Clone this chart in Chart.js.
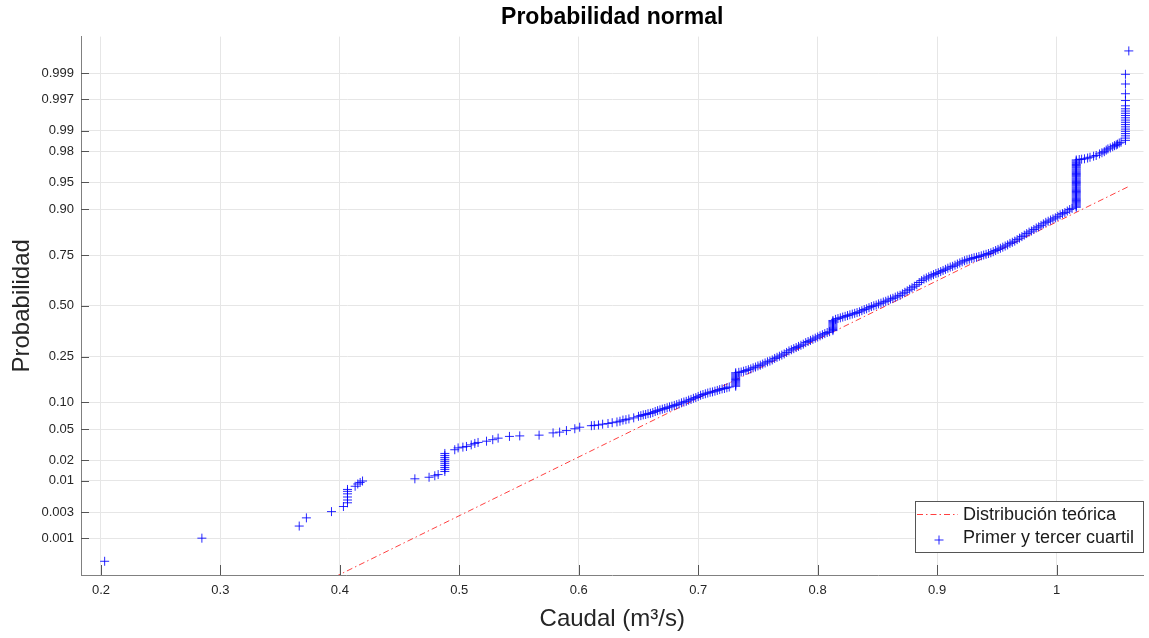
<!DOCTYPE html>
<html>
<head>
<meta charset="utf-8">
<script src="https://cdn.jsdelivr.net/npm/chart.js@4.4.0/dist/chart.umd.min.js"></script>
<style>
  html, body { margin: 0; padding: 0; background: #fff; }
  canvas { display: block; }
</style>
</head>
<body>
<canvas id="normplot" width="1149" height="638"></canvas>
<script>
// caudales ordenados (m3/s) y su probabilidad acumulada
const caudal = [
    // cola inferior
    0.2031, 0.2845, 0.366, 0.372, 0.393, 0.403,
    0.4064, 0.4064, 0.4064, 0.4064, 0.4064, 0.4064,
    0.4128, 0.415, 0.417, 0.419,
    0.4628, 0.4747, 0.4795, 0.4823,
    0.4879, 0.4879, 0.4879, 0.4879, 0.4879, 0.4879, 0.4879, 0.4879, 0.4879, 0.4879,
    0.4962, 0.499, 0.503, 0.506, 0.510, 0.513, 0.5157, 0.5228, 0.528, 0.5325,
    0.542, 0.5506, 0.5668, 0.5785, 0.584, 0.5897, 0.5967, 0.6008,
    0.6106, 0.613, 0.6165, 0.620, 0.6245, 0.628, 0.632, 0.6345, 0.637, 0.6395, 0.642, 0.646,
    // tramo denso
    0.650, 0.652, 0.654, 0.656, 0.658, 0.660, 0.662, 0.664, 0.666, 0.668,
    0.670, 0.672, 0.674, 0.676, 0.678, 0.680, 0.682, 0.684, 0.686, 0.688,
    0.690, 0.692, 0.694, 0.696, 0.698, 0.700, 0.702, 0.704, 0.706, 0.708,
    0.710, 0.712, 0.714, 0.716, 0.718, 0.720, 0.722, 0.724, 0.726,
    0.7314, 0.7314, 0.7314, 0.7314, 0.7314, 0.7314, 0.7314, 0.7314, 0.7314, 0.7314,
    0.7314, 0.7314, 0.7314,
    0.734, 0.736, 0.738, 0.740, 0.742, 0.744, 0.746, 0.748, 0.750, 0.752,
    0.754, 0.756, 0.758, 0.760, 0.762, 0.764, 0.766, 0.768, 0.770, 0.772,
    0.774, 0.776, 0.778, 0.780, 0.782, 0.784, 0.786, 0.788, 0.790, 0.792,
    0.794, 0.796, 0.798, 0.800, 0.802, 0.804, 0.806, 0.808, 0.810,
    0.8128, 0.8128, 0.8128, 0.8128, 0.8128, 0.8128, 0.8128, 0.8128, 0.8128, 0.8128,
    0.815, 0.817, 0.819, 0.821, 0.823, 0.825, 0.827, 0.829, 0.831, 0.833,
    0.835, 0.837, 0.839, 0.841, 0.843, 0.845, 0.847, 0.849, 0.851, 0.853,
    0.855, 0.857, 0.859, 0.861, 0.863, 0.865, 0.867, 0.869, 0.871, 0.873,
    0.875, 0.877, 0.879, 0.881, 0.883, 0.885, 0.887, 0.889, 0.891, 0.893,
    0.895, 0.897, 0.899, 0.901, 0.903, 0.905, 0.907, 0.909, 0.911, 0.913,
    0.915, 0.917, 0.919, 0.921, 0.923, 0.925, 0.927, 0.929, 0.931, 0.933,
    0.935, 0.937, 0.939, 0.941, 0.943, 0.945, 0.947, 0.949, 0.951, 0.953,
    0.955, 0.957, 0.959, 0.961, 0.963, 0.965, 0.967, 0.969, 0.971, 0.973,
    0.975, 0.977, 0.979, 0.981, 0.983, 0.985, 0.987, 0.989, 0.991, 0.993,
    0.995, 0.997, 0.999, 1.001, 1.003, 1.005, 1.007, 1.009, 1.011, 1.013,
    // escalon en 1.0165
    1.0165, 1.0165, 1.0165, 1.0165, 1.0165, 1.0165, 1.0165, 1.0165, 1.0165, 1.0165,
    1.0165, 1.0165, 1.0165, 1.0165, 1.0165, 1.0165, 1.0165, 1.0165, 1.0165, 1.0165,
    1.0165, 1.0165, 1.0165, 1.0165, 1.0165, 1.0165, 1.0165, 1.0165, 1.0165, 1.0165,
    1.0165, 1.0165, 1.0165, 1.0165, 1.0165, 1.0165, 1.0165, 1.0165, 1.0165, 1.0165,
    1.0165, 1.0165, 1.0165,
    // cola superior
    1.019, 1.021, 1.0234, 1.026, 1.028, 1.031, 1.0332, 1.036, 1.038, 1.040,
    1.0416, 1.043, 1.045, 1.047, 1.0485, 1.050, 1.051, 1.0525, 1.054,
    1.0577, 1.0577, 1.0577, 1.0577, 1.0577, 1.0577, 1.0577, 1.0577, 1.0577, 1.0577,
    1.0577, 1.0577, 1.0577, 1.0577, 1.0577, 1.0577, 1.0577, 1.0577, 1.0577, 1.0577,
    1.0605
];
const probabilidad = [
    0.00034, 0.0010, 0.0017, 0.0024, 0.0031, 0.0038,
    0.0044, 0.0049, 0.0055, 0.0062, 0.0068, 0.0073,
    0.0082, 0.0089, 0.0094, 0.0099,
    0.0107, 0.0113, 0.0119, 0.0124,
    0.0138, 0.0148, 0.0158, 0.0169, 0.0181, 0.0193, 0.0206, 0.0219, 0.0233, 0.0248,
    0.0278, 0.0294, 0.0301, 0.0307, 0.0322, 0.0336, 0.0346, 0.0359, 0.0375, 0.0392,
    0.0412, 0.0418, 0.0427, 0.0455, 0.0465, 0.0485, 0.0510, 0.0532,
    0.0554, 0.0559, 0.0565, 0.0577, 0.0588, 0.0600, 0.0612, 0.0624, 0.0643, 0.0649, 0.0662, 0.0681,
    0.0708, 0.0721, 0.0735, 0.0742, 0.0757, 0.0764, 0.0778, 0.0800, 0.0816, 0.0831,
    0.0846, 0.0861, 0.0877, 0.0893, 0.0910, 0.0926, 0.0943, 0.0960, 0.0985, 0.1003,
    0.1020, 0.1047, 0.1066, 0.1093, 0.1112, 0.1141, 0.1170, 0.1190, 0.1210, 0.1230,
    0.1251, 0.1261, 0.1282, 0.1303, 0.1325, 0.1346, 0.1357, 0.1379, 0.1401,
    0.1423, 0.1457, 0.1492, 0.1527, 0.1562, 0.1599, 0.1635, 0.1672, 0.1711, 0.1749,
    0.1788, 0.1827, 0.1867,
    0.1881, 0.1894, 0.1922, 0.1949, 0.1977, 0.2005, 0.2047, 0.2076, 0.2119, 0.2148,
    0.2192, 0.2236, 0.2281, 0.2312, 0.2358, 0.2420, 0.2467, 0.2514, 0.2562, 0.2611,
    0.2676, 0.2743, 0.2793, 0.2843, 0.2895, 0.2946, 0.2998, 0.3050, 0.3121, 0.3174,
    0.3228, 0.3282, 0.3336, 0.3391, 0.3446, 0.3502, 0.3557, 0.3613, 0.3651,
    0.3707, 0.3764, 0.3821, 0.3878, 0.3936, 0.3994, 0.4052, 0.4110, 0.4168, 0.4227,
    0.4286, 0.4325, 0.4364, 0.4404, 0.4443, 0.4483, 0.4522, 0.4562, 0.4602, 0.4641,
    0.4681, 0.4741, 0.4801, 0.4840, 0.4900, 0.4960, 0.5000, 0.5040, 0.5100, 0.5140,
    0.5199, 0.5239, 0.5299, 0.5359, 0.5398, 0.5458, 0.5517, 0.5557, 0.5636, 0.5714,
    0.5793, 0.5871, 0.5948, 0.6026, 0.6103, 0.6217, 0.6312, 0.6387, 0.6443, 0.6499,
    0.6554, 0.6610, 0.6664, 0.6700, 0.6754, 0.6808, 0.6862, 0.6915, 0.6968, 0.7002,
    0.7054, 0.7106, 0.7157, 0.7207, 0.7257, 0.7291, 0.7324, 0.7357, 0.7389, 0.7406,
    0.7438, 0.7470, 0.7502, 0.7533, 0.7565, 0.7596, 0.7642, 0.7689, 0.7734, 0.7779,
    0.7823, 0.7867, 0.7910, 0.7967, 0.8009, 0.8051, 0.8106, 0.8159, 0.8212, 0.8264,
    0.8315, 0.8365, 0.8401, 0.8450, 0.8497, 0.8531, 0.8577, 0.8621, 0.8665, 0.8697,
    0.8729, 0.8760, 0.8790, 0.8830, 0.8869, 0.8898, 0.8925, 0.8962, 0.8997, 0.9024,
    0.9049, 0.9074, 0.9099, 0.9123, 0.9147, 0.9170, 0.9192, 0.9215, 0.9236, 0.9258,
    0.9279, 0.9299, 0.9319, 0.9339, 0.9357, 0.9376, 0.9394, 0.9412, 0.9429, 0.9447,
    0.9463, 0.9479, 0.9495, 0.9510, 0.9525, 0.9540, 0.9554, 0.9569, 0.9582, 0.9595,
    0.9608, 0.9621, 0.9633, 0.9645, 0.9656, 0.9668, 0.9678, 0.9690, 0.9699, 0.9710,
    0.9719, 0.9729, 0.9738,
    0.9741, 0.9744, 0.9747, 0.9753, 0.9759, 0.9767, 0.9772, 0.9783, 0.9791, 0.9798,
    0.9808, 0.9815, 0.9821, 0.9828, 0.9834, 0.9838, 0.9842, 0.9848, 0.9852,
    0.9861, 0.98713, 0.98809, 0.98899, 0.98983, 0.99061, 0.99134, 0.99202, 0.99266, 0.99324,
    0.99379, 0.9943, 0.99477, 0.9952, 0.9956, 0.99609, 0.99683, 0.9976, 0.99841, 0.99896,
    0.99965
];

// recta de la distribucion teorica (extremos)
const lineaCaudal = [0.2031, 1.0605];
const lineaProb = [1.6e-7, 0.9438];

const ticksProb = [0.001, 0.003, 0.01, 0.02, 0.05, 0.10, 0.25, 0.50, 0.75, 0.90, 0.95, 0.98, 0.99, 0.997, 0.999];
const etiquetasProb = ['0.001', '0.003', '0.01', '0.02', '0.05', '0.10', '0.25', '0.50', '0.75', '0.90', '0.95', '0.98', '0.99', '0.997', '0.999'];
const ticksCaudal = [0.2, 0.3, 0.4, 0.5, 0.6, 0.7, 0.8, 0.9, 1.0];
const etiquetasCaudal = ['0.2', '0.3', '0.4', '0.5', '0.6', '0.7', '0.8', '0.9', '1'];

// inversa de la normal estandar (Acklam), para la escala de probabilidad
function probit(p) {
    const a = [-3.969683028665376e+01, 2.209460984245205e+02, -2.759285104469687e+02, 1.383577518672690e+02, -3.066479806614716e+01, 2.506628277459239e+00];
    const b = [-5.447609879822406e+01, 1.615858368580409e+02, -1.556989798598866e+02, 6.680131188771972e+01, -1.328068155288572e+01];
    const c = [-7.784894002430293e-03, -3.223964580411365e-01, -2.400758277161838e+00, -2.549732539343734e+00, 4.374664141464968e+00, 2.938163982698783e+00];
    const d = [7.784695709041462e-03, 3.224671290700398e-01, 2.445134137142996e+00, 3.754408661907416e+00];
    const pl = 0.02425;
    if (p < pl) {
        const q = Math.sqrt(-2 * Math.log(p));
        return (((((c[0] * q + c[1]) * q + c[2]) * q + c[3]) * q + c[4]) * q + c[5]) / ((((d[0] * q + d[1]) * q + d[2]) * q + d[3]) * q + 1);
    }
    if (p > 1 - pl) {
        const q = Math.sqrt(-2 * Math.log(1 - p));
        return -(((((c[0] * q + c[1]) * q + c[2]) * q + c[3]) * q + c[4]) * q + c[5]) / ((((d[0] * q + d[1]) * q + d[2]) * q + d[3]) * q + 1);
    }
    const q = p - 0.5, r = q * q;
    return (((((a[0] * r + a[1]) * r + a[2]) * r + a[3]) * r + a[4]) * r + a[5]) * q / (((((b[0] * r + b[1]) * r + b[2]) * r + b[3]) * r + b[4]) * r + 1);
}

const puntos = caudal.map((x, i) => ({ x: x, y: probit(probabilidad[i]) }));
const linea = lineaCaudal.map((x, i) => ({ x: x, y: probit(lineaProb[i]) }));

const FONT = "'Liberation Sans', Arial, Helvetica, sans-serif";
const AZUL = 'rgba(0,0,255,0.85)';
const ROJO = 'rgba(255,0,0,0.75)';
const GUION = [6, 3, 1.5, 3];

// marcas de los ejes hacia dentro, como en MATLAB
const marcasTicks = {
    id: 'marcasTicks',
    afterDatasetsDraw(chart) {
        const { ctx, chartArea: a, scales: { x, y } } = chart;
        ctx.save();
        ctx.strokeStyle = '#555';
        ctx.lineWidth = 1;
        ctx.beginPath();
        x.ticks.forEach(t => {
            const px = Math.round(x.getPixelForValue(t.value)) + 0.5;
            ctx.moveTo(px, a.bottom);
            ctx.lineTo(px, a.bottom - 10);
        });
        y.ticks.forEach(t => {
            const py = Math.round(y.getPixelForValue(t.value)) + 0.5;
            ctx.moveTo(a.left, py);
            ctx.lineTo(a.left + 8, py);
        });
        ctx.stroke();
        ctx.restore();
    }
};

const leyenda = {
    id: 'leyenda',
    afterDraw(chart) {
        const { ctx, chartArea: a } = chart;
        const textos = chart.data.datasets.map(ds => ds.label);
        ctx.save();
        ctx.font = '18px ' + FONT;
        const ancho = Math.max(...textos.map(t => ctx.measureText(t).width));
        const left = a.left + 834, top = a.bottom - 74;
        const w = 48 + ancho + 9, h = 51;
        ctx.fillStyle = '#fff';
        ctx.fillRect(left, top, w, h);
        ctx.strokeStyle = '#555';
        ctx.lineWidth = 1;
        ctx.strokeRect(Math.round(left) + 0.5, Math.round(top) + 0.5, Math.round(w), h);

        // linea roja
        ctx.strokeStyle = ROJO;
        ctx.setLineDash(GUION);
        ctx.beginPath();
        ctx.moveTo(left + 2, top + 13.5);
        ctx.lineTo(left + 43, top + 13.5);
        ctx.stroke();
        ctx.setLineDash([]);

        // cruz azul
        ctx.strokeStyle = AZUL;
        ctx.beginPath();
        ctx.moveTo(left + 19.5, top + 39);
        ctx.lineTo(left + 28.5, top + 39);
        ctx.moveTo(left + 24, top + 34.5);
        ctx.lineTo(left + 24, top + 43.5);
        ctx.stroke();

        ctx.fillStyle = '#1a1a1a';
        ctx.textBaseline = 'middle';
        ctx.fillText(textos[1], left + 48, top + 14.5);
        ctx.fillText(textos[0], left + 48, top + 37.5);
        ctx.restore();
    }
};

new Chart(document.getElementById('normplot'), {
    type: 'scatter',
    data: {
        datasets: [
            {
                label: 'Primer y tercer cuartil',
                data: puntos,
                showLine: false,
                pointStyle: 'cross',
                pointRadius: 4.5,
                pointBorderWidth: 1,
                pointBorderColor: AZUL,
                pointBackgroundColor: AZUL
            },
            {
                label: 'Distribución teórica',
                data: linea,
                showLine: true,
                pointRadius: 0,
                borderColor: ROJO,
                borderWidth: 1,
                borderDash: GUION
            }
        ]
    },
    options: {
        responsive: false,
        animation: false,
        events: [],
        layout: { padding: { right: 1 } },
        plugins: {
            legend: { display: false },
            tooltip: { enabled: false },
            title: {
                display: true,
                fullSize: false,
                text: 'Probabilidad normal',
                color: '#000',
                font: { family: FONT, size: 23, weight: 'bold' },
                padding: { top: 4, bottom: 5 }
            }
        },
        scales: {
            x: {
                type: 'linear',
                min: 0.1833,
                max: 1.0728,
                afterBuildTicks: s => { s.ticks = ticksCaudal.map(v => ({ value: v })); },
                afterFit: s => { s.height = 63; },
                ticks: {
                    autoSkip: false,
                    maxRotation: 0,
                    padding: 8,
                    color: '#262626',
                    font: { family: FONT, size: 13 },
                    callback: (v, i) => etiquetasCaudal[i]
                },
                grid: { color: '#e6e6e6', drawTicks: false },
                border: { color: '#808080' },
                title: {
                    display: true,
                    text: 'Caudal (m³/s)',
                    color: '#262626',
                    font: { family: FONT, size: 24 },
                    padding: { top: 0, bottom: 4 }
                }
            },
            y: {
                type: 'linear',
                min: -3.58,
                max: 3.58,
                afterBuildTicks: s => { s.ticks = ticksProb.map(p => ({ value: probit(p) })); },
                afterFit: s => { s.width = 81; },
                ticks: {
                    autoSkip: false,
                    padding: 7,
                    color: '#262626',
                    font: { family: FONT, size: 13 },
                    callback: (v, i) => etiquetasProb[i]
                },
                grid: { color: '#e6e6e6', drawTicks: false },
                border: { color: '#808080' },
                title: {
                    display: true,
                    text: 'Probabilidad',
                    color: '#262626',
                    font: { family: FONT, size: 24 },
                    padding: { top: 8, bottom: 0 }
                }
            }
        }
    },
    plugins: [marcasTicks, leyenda]
});
</script>
</body>
</html>
